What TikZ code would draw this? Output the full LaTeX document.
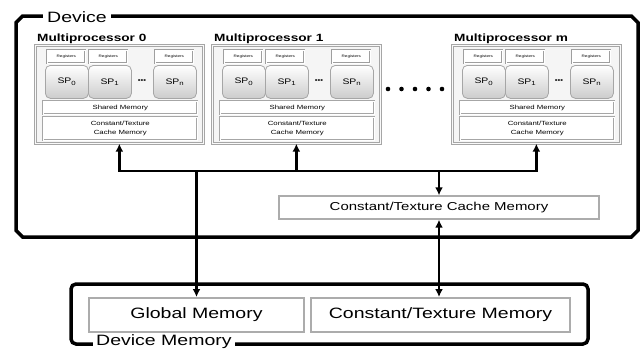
\documentclass[tikz,border=0pt]{standalone}
\usepackage{fontspec}
\setmainfont[FakeStretch=1.3]{Liberation Sans}
\usetikzlibrary{arrows.meta,shapes.misc}

\begin{document}
\begin{tikzpicture}[x=1pt,y=-1pt,>={Latex[length=8pt,width=8pt]},
    frame/.style={draw=black,line width=3.5pt},
    bus/.style={draw=black,line width=2.6pt},
    mpbox/.style={draw=gray!70,line width=0.7pt,double=gray!5,double distance=1pt,fill=gray!8,inner sep=0pt},
    regbox/.style={draw=gray!75,line width=0.6pt,double=white,double distance=0.8pt,fill=white,inner sep=0pt,
        minimum width=38pt,minimum height=13pt,font=\fontsize{3.5}{4}\selectfont},
    spbox/.style={draw=gray!70,line width=0.8pt,rounded corners=5pt,top color=white,bottom color=gray!40,
        inner sep=0pt,minimum width=43pt,minimum height=33pt,font=\fontsize{8}{9}\selectfont},
    membox/.style={draw=gray!70,line width=0.6pt,double=white,double distance=0.8pt,fill=white,inner sep=0pt,
        minimum width=154pt,align=center,font=\fontsize{6}{9}\selectfont},
    bigmem/.style={draw=gray!65,line width=2pt,fill=white,inner sep=0pt,font=\fontsize{15}{18}\selectfont}
    ]
\useasboundingbox (0,0) rectangle (643,349);

% device and its memory
\node[frame,chamfered rectangle,chamfered rectangle xsep=10pt,chamfered rectangle ysep=10pt,
    minimum width=622pt,minimum height=221pt] (device) at (327,126.5) {};
\node[fill=white,inner xsep=4pt,inner ysep=1pt,font=\fontsize{15}{18}\selectfont] (devlbl) at (77,17) {Device};
\node[frame,rounded corners=5pt,minimum width=517pt,minimum height=60pt] (devmem) at (329.5,314) {};
\node[fill=white,inner xsep=3pt,inner ysep=1pt,anchor=base west,font=\fontsize{15}{18}\selectfont] (memlbl) at (93,345.5) {Device Memory};

\node[bigmem,minimum width=215pt,minimum height=34pt] (glob) at (196.5,315) {Global Memory};
\node[bigmem,minimum width=259pt,minimum height=34pt] (ctmem) at (440.5,315) {Constant/Texture Memory};
\node[bigmem,line width=1.4pt,minimum width=320pt,minimum height=23pt,font=\fontsize{11.5}{14}\selectfont] (ccache) at (439,207.5) {Constant/Texture Cache Memory};

\foreach \mx/\mn in {35/0, 212/1, 452/m}
    {
    \node[mpbox,anchor=north west,minimum width=168pt,minimum height=98pt] (mp\mn) at (\mx,45) {};
    \node[anchor=south west,inner sep=0pt,font=\bfseries\fontsize{10.5}{12}\selectfont] (mpt\mn) at (\mx+2,44) {Multiprocessor \mn};
    \foreach \rx/\rn in {12/a, 54/b, 120/c}
        \node[regbox,anchor=north west] (reg\mn\rn) at (\mx+\rx,50) {Registers};
    \foreach \sx/\si/\sn in {10/0/a, 53/1/b, 118/n/c}
        \node[spbox,anchor=north west] (sp\mn\sn) at (\mx+\sx,65) {SP\textsubscript{\si}};
    \node[inner sep=0pt,font=\bfseries\fontsize{6}{7}\selectfont] (dots\mn) at (\mx+107,81) {\textbullet\textbullet\textbullet};
    \node[membox,anchor=north west,minimum height=13pt] (sh\mn) at (\mx+8,101) {Shared Memory};
    \node[membox,anchor=north west,minimum height=23pt] (cc\mn) at (\mx+8,117) {Constant/Texture\\Cache Memory};
    }

\foreach \k in {0,...,4}
    \fill (388+13.5*\k,89) circle (2.3pt);

% connections
\coordinate (bus) at (0,171);
\draw[bus,<->] (mp0.south) |- (bus -| mpm.south) -- (mpm.south);
\draw[bus,->] (bus -| mp1.south) -- (mp1.south);
\draw[bus,->] (bus -| glob.north) -- (glob.north);
\draw[bus,->] (bus -| ccache.north) -- (ccache.north);
\draw[bus,<->] (ccache.south) -- (ccache.south |- ctmem.north);

\end{tikzpicture}
\end{document}
